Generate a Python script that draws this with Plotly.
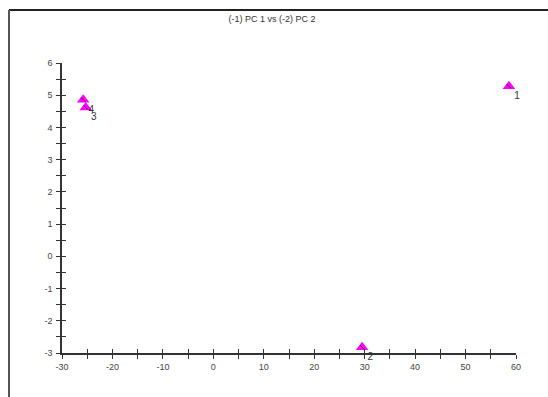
import plotly.graph_objects as go

# Data
labels = ["1", "2", "3", "4"]
pc1 = [58.6, 29.5, -25.3, -25.8]
pc2 = [5.28, -2.82, 4.62, 4.86]

x_tickvals = [-30, -25, -20, -15, -10, -5, 0, 5, 10, 15, 20, 25, 30, 35, 40, 45, 50, 55, 60]
x_ticktext = ["-30", "", "-20", "", "-10", "", "0", "", "10", "", "20", "", "30", "", "40", "", "50", "", "60"]
y_tickvals = [-3, -2.5, -2, -1.5, -1, -0.5, 0, 0.5, 1, 1.5, 2, 2.5, 3, 3.5, 4, 4.5, 5, 5.5, 6]
y_ticktext = ["-3", "", "-2", "", "-1", "", "0", "", "1", "", "2", "", "3", "", "4", "", "5", "", "6"]

title_text = "(-1) PC 1 vs (-2) PC 2"

W, H = 548, 397
L, R, T, B = 62, 32, 63, 44
pw, ph = W - L - R, H - T - B

fig = go.Figure()

fig.add_trace(go.Scatter(
    x=pc1, y=pc2, mode="markers",
    marker=dict(symbol="triangle-up", size=11, color="#ff00ff", line=dict(width=0)),
    cliponaxis=False, showlegend=False, hoverinfo="skip",
))
fig.add_trace(go.Scatter(
    x=pc1, y=pc2, mode="markers",
    marker=dict(symbol="line-nw", size=4, color="#222222", line=dict(width=1, color="#222222")),
    cliponaxis=False, showlegend=False, hoverinfo="skip",
))
fig.add_trace(go.Scatter(
    x=pc1, y=pc2, mode="markers+text", text=labels,
    textposition="bottom right",
    marker=dict(size=7, opacity=0),
    textfont=dict(family="Liberation Sans, Arial, sans-serif", size=10, color="#333333"),
    cliponaxis=False, showlegend=False, hoverinfo="skip",
))
# helper trace for overlay axes (inside ticks)
fig.add_trace(go.Scatter(x=pc1, y=pc2, xaxis="x2", yaxis="y2", mode="markers",
                         marker=dict(opacity=0), showlegend=False, hoverinfo="skip"))

font = dict(family="Liberation Sans, Arial, sans-serif", size=9, color="#444444")

fig.update_layout(
    width=W, height=H,
    margin=dict(l=L, r=R, t=T, b=B, pad=0),
    paper_bgcolor="white", plot_bgcolor="white",
    title=dict(text=title_text, x=(272 - L) / pw, xref="paper", xanchor="center",
               y=1 - 19 / H, yanchor="middle",
               font=dict(family="Liberation Sans, Arial, sans-serif", size=9, color="#333333")),
    xaxis=dict(range=[-30, 60], tickmode="array", tickvals=x_tickvals, ticktext=x_ticktext,
               ticks="outside", ticklen=4, tickwidth=1, tickcolor="#333333",
               showline=True, linecolor="#333333", linewidth=1.5,
               showgrid=False, zeroline=False, tickfont=font, ticklabelstandoff=0,
               anchor="y", fixedrange=True),
    yaxis=dict(range=[-3, 6], tickmode="array", tickvals=y_tickvals, ticktext=y_ticktext,
               ticks="outside", ticklen=4, tickwidth=1, tickcolor="#333333",
               showline=True, linecolor="#333333", linewidth=1.5,
               showgrid=False, zeroline=False, tickfont=font, ticklabelstandoff=2,
               anchor="x", fixedrange=True),
    xaxis2=dict(range=[-30, 60], overlaying="x", anchor="y2", side="bottom",
                tickmode="array", tickvals=x_tickvals, ticks="inside", ticklen=4,
                tickwidth=1, tickcolor="#333333", showticklabels=False,
                showline=False, showgrid=False, zeroline=False),
    yaxis2=dict(range=[-3, 6], overlaying="y", anchor="x2", side="left",
                tickmode="array", tickvals=y_tickvals, ticks="inside", ticklen=4,
                tickwidth=1, tickcolor="#333333", showticklabels=False,
                showline=False, showgrid=False, zeroline=False),
)

# window frame (top and left edges)
x_left = (9 - L) / pw
y_top = 1 + (T - 10) / ph
fig.add_shape(type="line", xref="paper", yref="paper", x0=x_left, x1=(W - L + 5) / pw,
              y0=y_top, y1=y_top, line=dict(color="#222222", width=2))
fig.add_shape(type="line", xref="paper", yref="paper", x0=x_left, x1=x_left,
              y0=y_top, y1=-(B + 5) / ph, line=dict(color="#555555", width=2))

fig.write_html("out.html")
